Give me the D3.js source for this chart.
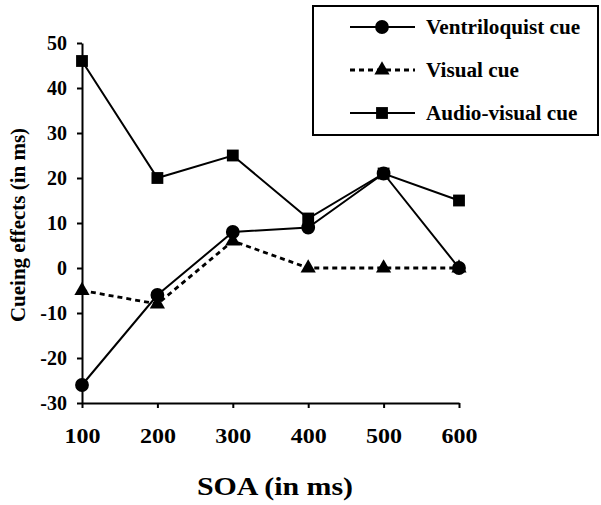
<!DOCTYPE html>
<html>
<head>
<meta charset="utf-8">
<script src="https://cdn.jsdelivr.net/npm/d3@7"></script>
<style>
  html, body { margin: 0; padding: 0; background: #fff; }
  svg { display: block; }
  text { font-family: "Liberation Serif", "Times New Roman", serif; font-weight: bold; fill: #000; }
</style>
</head>
<body>
<svg id="chart" width="601" height="505"></svg>
<script>
const soa = [100, 200, 300, 400, 500, 600];
const ventriloquist = [-26, -6, 8, 9, 21, 0];
const visual = [-5, -8, 6, 0, 0, 0];
const audioVisual = [46, 20, 25, 11, 21, 15];
const yTicks = [-30, -20, -10, 0, 10, 20, 30, 40, 50];
const seriesNames = ["Ventriloquist cue", "Visual cue", "Audio-visual cue"];

const svg = d3.select("#chart");
const x = d3.scaleLinear().domain([100, 600]).range([82, 459]);
const y = d3.scaleLinear().domain([-30, 50]).range([403, 43]);

// axes
const yAxis = svg.append("g").attr("transform", "translate(82,0)")
  .call(d3.axisLeft(y).tickValues(yTicks).tickFormat(d => String(d))
    .tickSize(5).tickSizeOuter(0).tickPadding(10));
const xAxis = svg.append("g").attr("transform", "translate(0,403)")
  .call(d3.axisBottom(x).tickValues(soa).tickFormat(d => String(d))
    .tickSize(5).tickSizeOuter(0).tickPadding(21));
[yAxis, xAxis].forEach(g => {
  g.select(".domain").attr("stroke", "#000").attr("stroke-width", 2);
  g.selectAll(".tick line").attr("stroke", "#000").attr("stroke-width", 2);
  g.selectAll(".tick text").attr("font-family", "Liberation Serif, serif")
    .attr("font-weight", "bold").attr("font-size", 20).attr("fill", "#000");
});
// x tick labels are horizontally widened in the reference
xAxis.selectAll(".tick text").each(function() {
  const w = this.getComputedTextLength();
  d3.select(this).attr("textLength", w * 1.2).attr("lengthAdjust", "spacingAndGlyphs");
});

// titles
svg.append("text").attr("transform", "translate(25,225) rotate(-90)")
  .attr("text-anchor", "middle").attr("font-size", 21).text("Cueing effects (in ms)");
const xt = svg.append("text").attr("x", 275).attr("y", 495)
  .attr("text-anchor", "middle").attr("font-size", 26).text("SOA (in ms)");
xt.attr("textLength", xt.node().getComputedTextLength() * 1.15).attr("lengthAdjust", "spacingAndGlyphs");

const series = [
  { name: seriesNames[0], values: ventriloquist, dash: null, width: 2, marker: "circle" },
  { name: seriesNames[1], values: visual, dash: "5,4", width: 2.8, marker: "triangle" },
  { name: seriesNames[2], values: audioVisual, dash: null, width: 2, marker: "square" }
];

const line = d3.line().x(d => x(d[0])).y(d => y(d[1]));
const symbols = {
  circle: d3.symbol().type(d3.symbolCircle).size(150),
  triangle: d3.symbol().type(d3.symbolTriangle).size(100),
  square: d3.symbol().type(d3.symbolSquare).size(140)
};

series.forEach(s => {
  const pts = soa.map((v, i) => [v, s.values[i]]);
  svg.append("path").datum(pts).attr("d", line)
    .attr("fill", "none").attr("stroke", "#000").attr("stroke-width", s.width)
    .attr("stroke-dasharray", s.dash);
  svg.append("g").selectAll("path").data(pts).join("path")
    .attr("transform", d => `translate(${x(d[0])},${y(d[1])})`)
    .attr("d", symbols[s.marker]).attr("fill", "#000");
});

// legend
const lg = svg.append("g");
lg.append("rect").attr("x", 313).attr("y", 6).attr("width", 285).attr("height", 129)
  .attr("fill", "#fff").attr("stroke", "#000").attr("stroke-width", 2);
const rowY = [27, 70, 113];
series.forEach((s, i) => {
  lg.append("line").attr("x1", 350).attr("x2", 415).attr("y1", rowY[i]).attr("y2", rowY[i])
    .attr("stroke", "#000").attr("stroke-width", s.width).attr("stroke-dasharray", s.dash);
  lg.append("path").attr("transform", `translate(382,${rowY[i]})`)
    .attr("d", symbols[s.marker]).attr("fill", "#000");
  const t = lg.append("text").attr("x", 426).attr("y", rowY[i] + 7).attr("font-size", 20).text(s.name);
  t.attr("textLength", t.node().getComputedTextLength() * 1.06).attr("lengthAdjust", "spacingAndGlyphs");
});
</script>
</body>
</html>
